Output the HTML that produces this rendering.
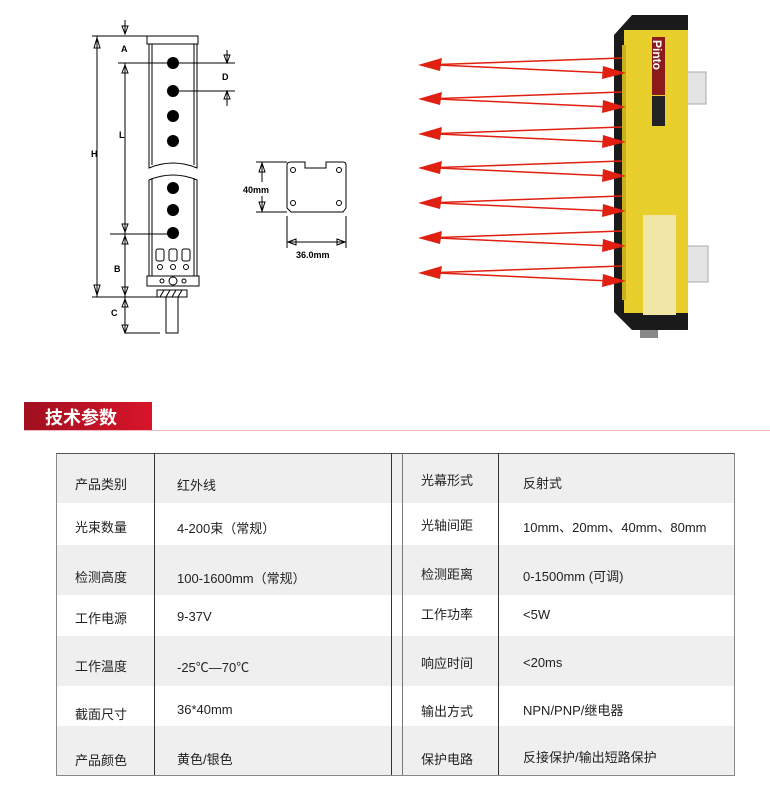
<!DOCTYPE html>
<html><head><meta charset="utf-8"><style>
body{margin:0;width:770px;height:789px;background:#fff;position:relative;overflow:hidden;font-family:"Liberation Sans","Noto Sans CJK SC",sans-serif}
.r{position:absolute;left:56px;width:678px}
.t{position:absolute;font-size:13px;color:#222;white-space:nowrap}
.v{position:absolute;top:453px;height:322px;width:1px;background:#333}
</style></head><body>
<svg width="770" height="400" style="position:absolute;left:0;top:0" xmlns="http://www.w3.org/2000/svg">
<g stroke="#000" fill="none" stroke-width="1">
<line x1="92" y1="36" x2="160" y2="36"/><line x1="92" y1="297" x2="160" y2="297"/>
<line x1="97" y1="36" x2="97" y2="297"/>
<path d="M94 48 L97 38 L100 48Z M94 285 L97 295 L100 285Z"/>
<line x1="125" y1="63" x2="125" y2="297"/><line x1="118" y1="63" x2="180" y2="63"/>
<line x1="110" y1="234" x2="175" y2="234"/>
<path d="M122 73 L125 65 L128 73Z M122 224 L125 232 L128 224Z M122 244 L125 236 L128 244Z M122 287 L125 295 L128 287Z M122 307 L125 299 L128 307Z M122 325 L125 333 L128 325Z"/>
<line x1="125" y1="297" x2="125" y2="333"/><line x1="125" y1="333" x2="160" y2="333"/>
<line x1="125" y1="20" x2="125" y2="34"/><path d="M122 26 L125 34 L128 26Z"/>
<line x1="173" y1="91" x2="235" y2="91"/><line x1="173" y1="63" x2="235" y2="63"/>
<line x1="227" y1="50" x2="227" y2="63"/><line x1="227" y1="91" x2="227" y2="106"/>
<path d="M224 55 L227 63 L230 55Z M224 99 L227 91 L230 99Z"/>
<rect x="147" y="36" width="51" height="8"/>
<path d="M149 44 V168 Q173 158 197 168 V44"/><line x1="152" y1="44" x2="152" y2="165"/><line x1="194" y1="44" x2="194" y2="165"/>
<path d="M149 180 Q173 170 197 180 V276 H149Z"/><line x1="152" y1="178" x2="152" y2="276"/><line x1="194" y1="178" x2="194" y2="276"/>
<rect x="147" y="276" width="52" height="10"/>
<rect x="157" y="290" width="30" height="7"/>
<path d="M160 297 L164 290 M166 297 L170 290 M172 297 L176 290 M178 297 L182 290"/>
<rect x="166" y="297" width="12" height="36"/>
<circle cx="173" cy="281" r="4"/><circle cx="162" cy="281" r="2"/><circle cx="184" cy="281" r="2"/>
<circle cx="160" cy="267" r="2.5"/><circle cx="173" cy="267" r="2.5"/><circle cx="186" cy="267" r="2.5"/>
<rect x="156" y="249" width="8" height="12" rx="2"/><rect x="169" y="249" width="8" height="12" rx="2"/><rect x="182" y="249" width="8" height="12" rx="2"/>
<path d="M291 162 H305 V168 H326 V162 H343 Q346 162 346 165 V208 L343 212 H291 L287 208 V165 Q287 162 291 162Z"/>
<circle cx="293" cy="170" r="2.5"/><circle cx="339" cy="170" r="2.5"/><circle cx="293" cy="203" r="2.5"/><circle cx="339" cy="203" r="2.5"/>
<line x1="256" y1="162" x2="287" y2="162"/><line x1="256" y1="212" x2="287" y2="212"/>
<line x1="262" y1="162" x2="262" y2="182"/><line x1="262" y1="196" x2="262" y2="212"/>
<path d="M259 172 L262 163 L265 172Z M259 202 L262 211 L265 202Z"/>
<line x1="287" y1="216" x2="287" y2="248"/><line x1="346" y1="216" x2="346" y2="248"/>
<line x1="287" y1="242" x2="346" y2="242"/><path d="M296 239 L288 242 L296 245Z M337 239 L345 242 L337 245Z"/>
</g>
<g fill="#000">
<circle cx="173" cy="63" r="6"/><circle cx="173" cy="91" r="6"/><circle cx="173" cy="116" r="6"/><circle cx="173" cy="141" r="6"/>
<circle cx="173" cy="188" r="6"/><circle cx="173" cy="210" r="6"/><circle cx="173" cy="233" r="6"/>
</g>
<g font-family="Liberation Sans" font-size="9" font-weight="bold">
<text x="121" y="52">A</text><text x="222" y="80">D</text><text x="119" y="138">L</text><text x="91" y="157">H</text>
<text x="114" y="272">B</text><text x="111" y="316">C</text><text x="243" y="193">40mm</text><text x="296" y="258">36.0mm</text>
</g>
<path d="M686 72 h20 v32 h-20Z M686 246 h22 v36 h-22Z" fill="#e4e4e4" stroke="#aaa"/>
<path d="M614 35 L632 15 L688 15 L688 330 L632 330 L614 312Z" fill="#1a1a1a"/>
<rect x="624" y="30" width="64" height="283" fill="#e8cf2c"/>
<rect x="622" y="45" width="4" height="255" fill="#c8b020"/>
<rect x="652" y="37" width="13" height="58" fill="#8b1a1a"/>
<text x="653" y="40" transform="rotate(90 653 40)" font-size="12" font-weight="bold" fill="#fff" font-family="Liberation Sans">Pinto</text>
<rect x="652" y="96" width="13" height="30" fill="#222"/>
<rect x="643" y="215" width="33" height="100" fill="#efe6a8"/>
<rect x="640" y="330" width="18" height="8" fill="#888"/>
<g stroke="#e02010" stroke-width="1.5" fill="#e02010">
<g id="a"><line x1="622" y1="58" x2="425" y2="65"/><line x1="438" y1="65" x2="610" y2="73"/>
<path d="M418 65 L442 58 L440 71Z" stroke="none"/><path d="M626 73 L603 66 L602 79Z" stroke="none"/></g>
<use href="#a" y="34"/><use href="#a" y="69"/><use href="#a" y="103"/><use href="#a" y="138"/><use href="#a" y="173"/><use href="#a" y="208"/>
</g>
</svg>
<div style="position:absolute;left:24px;top:402px;width:128px;height:29px;background:linear-gradient(90deg,#a01020,#d8142a)"></div>
<div style="position:absolute;left:45px;top:404px;font-size:18px;font-weight:bold;color:#fff;font-family:'Noto Sans CJK SC',sans-serif">技术参数</div>
<div style="position:absolute;left:24px;top:430px;width:746px;height:1px;background:#f0b8bc"></div>
<div class="r" style="top:453px;height:50px;background:#efefef"></div>
<div class="r" style="top:545px;height:50px;background:#efefef"></div>
<div class="r" style="top:636px;height:50px;background:#efefef"></div>
<div class="r" style="top:726px;height:49px;background:#efefef"></div>
<div style="position:absolute;left:56px;top:453px;width:677px;height:321px;border:1px solid #888;border-top-color:#555"></div>
<div class="v" style="left:154px"></div><div class="v" style="left:391px"></div><div class="v" style="left:402px;background:#777"></div><div class="v" style="left:498px"></div>
<div class="t" style="left:75px;top:474px">产品类别</div><div class="t" style="left:177px;top:475px">红外线</div><div class="t" style="left:421px;top:470px">光幕形式</div><div class="t" style="left:523px;top:473px">反射式</div>
<div class="t" style="left:75px;top:517px">光束数量</div><div class="t" style="left:177px;top:518px">4-200束（常规）</div><div class="t" style="left:421px;top:515px">光轴间距</div><div class="t" style="left:523px;top:517px">10mm、20mm、40mm、80mm</div>
<div class="t" style="left:75px;top:567px">检测高度</div><div class="t" style="left:177px;top:568px">100-1600mm（常规）</div><div class="t" style="left:421px;top:564px">检测距离</div><div class="t" style="left:523px;top:566px">0-1500mm (可调)</div>
<div class="t" style="left:75px;top:608px">工作电源</div><div class="t" style="left:177px;top:609px">9-37V</div><div class="t" style="left:421px;top:604px">工作功率</div><div class="t" style="left:523px;top:607px">&lt;5W</div>
<div class="t" style="left:75px;top:656px">工作温度</div><div class="t" style="left:177px;top:657px">-25℃—70℃</div><div class="t" style="left:421px;top:653px">响应时间</div><div class="t" style="left:523px;top:655px">&lt;20ms</div>
<div class="t" style="left:75px;top:704px">截面尺寸</div><div class="t" style="left:177px;top:702px">36*40mm</div><div class="t" style="left:421px;top:701px">输出方式</div><div class="t" style="left:523px;top:700px">NPN/PNP/继电器</div>
<div class="t" style="left:75px;top:750px">产品颜色</div><div class="t" style="left:177px;top:749px">黄色/银色</div><div class="t" style="left:421px;top:749px">保护电路</div><div class="t" style="left:523px;top:747px">反接保护/输出短路保护</div>
</body></html>
